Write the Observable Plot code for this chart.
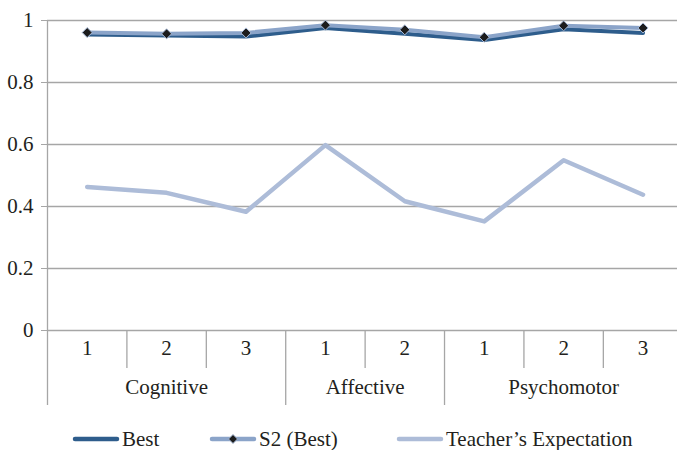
<!DOCTYPE html>
<html>
<head>
<meta charset="utf-8">
<script src="https://cdn.jsdelivr.net/npm/d3@7"></script>
<script src="https://cdn.jsdelivr.net/npm/@observablehq/plot@0.6"></script>
<style>
  html, body { margin: 0; padding: 0; background: white; }
  .fig { width: 677px; font-family: 'Liberation Serif', 'Times New Roman', serif; }
  .lg { position: relative; width: 677px; height: 30px; font-family: 'Liberation Serif', 'Times New Roman', serif; font-size: 21px; color: #231f20; }
  .lg .it { position: absolute; top: 4px; height: 30px; display: flex; align-items: center; white-space: nowrap; }
  .lg svg { display: block; margin-right: 2px; }
</style>
</head>
<body>
<div class="fig" id="figbox"></div>
<script>
const groups = ["Cognitive","Cognitive","Cognitive","Affective","Affective","Psychomotor","Psychomotor","Psychomotor"];
const items = ["1","2","3","1","2","1","2","3"];
const best = [0.955, 0.952, 0.948, 0.976, 0.957, 0.937, 0.972, 0.960];
const s2Best = [0.961, 0.957, 0.960, 0.985, 0.970, 0.946, 0.983, 0.976];
const teacher = [0.463, 0.444, 0.383, 0.598, 0.417, 0.352, 0.549, 0.438];
const yTicks = [0, 0.2, 0.4, 0.6, 0.8, 1];
const seriesNames = ["Best", "S2 (Best)", "Teacher\u2019s Expectation"];
const colors = {best: "#2e5d8c", s2: "#8ba4c9", teacher: "#adbcd8"};
const gridColor = "#a6a6a6";

const rows = items.map((d, i) => ({i, item: d, group: groups[i], best: best[i], s2: s2Best[i], teacher: teacher[i]}));

const shortSeps = [], groupSeps = [];
items.forEach((d, i) => {
  if (i === 0) return;
  if (groups[i] !== groups[i - 1]) groupSeps.push(i - 0.5); else shortSeps.push(i - 0.5);
});
groupSeps.push(items.length - 0.5);
const groupList = [];
groups.forEach((g, i) => {
  const last = groupList[groupList.length - 1];
  if (last && last.name === g) { last.end = i; } else groupList.push({name: g, start: i, end: i});
});
groupList.forEach(g => g.center = (g.start + g.end) / 2);

const svg = Plot.plot({
  width: 677,
  height: 420,
  marginLeft: 47,
  marginRight: 0,
  marginTop: 20,
  marginBottom: 90,
  x: {domain: [-0.5, 7.434], axis: null},
  y: {domain: [0, 1], axis: null},
  style: {fontFamily: "Liberation Serif", fontSize: "21px", color: "#231f20", background: "white"},
  marks: [
    Plot.ruleY(yTicks, {stroke: gridColor, strokeWidth: 1.3}),
    Plot.axisY({ticks: yTicks, tickSize: 6, tickPadding: 8, stroke: gridColor, fill: "#231f20", tickFormat: d => String(d), label: null, fontSize: 21}),
    Plot.ruleX([-0.5], {stroke: gridColor, strokeWidth: 1.3, insetBottom: -75}),
    Plot.ruleX(shortSeps, {stroke: gridColor, strokeWidth: 1.3, insetTop: 310, insetBottom: -38}),
    Plot.ruleX(groupSeps, {stroke: gridColor, strokeWidth: 1.3, insetTop: 310, insetBottom: -75}),
    Plot.text(rows, {x: "i", text: "item", frameAnchor: "bottom", dy: 24, fill: "#231f20", fontSize: 21}),
    Plot.text(groupList, {x: "center", text: "name", frameAnchor: "bottom", dy: 63, fill: "#231f20", fontSize: 21}),
    Plot.line(rows, {x: "i", y: "teacher", stroke: colors.teacher, strokeWidth: 4.5}),
    Plot.line(rows, {x: "i", y: "best", stroke: colors.best, strokeWidth: 4}),
    Plot.line(rows, {x: "i", y: "s2", stroke: colors.s2, strokeWidth: 4}),
    Plot.dot(rows, {x: "i", y: "s2", symbol: "diamond2", r: 4.5, fill: "#1c1c1c", stroke: "#a9bbd8", strokeWidth: 1})
  ]
});
const box = document.getElementById("figbox");
box.appendChild(svg);

const legend = document.createElement("div");
legend.className = "lg";
const legendItems = [
  {name: seriesNames[0], color: colors.best, marker: false, left: 72},
  {name: seriesNames[1], color: colors.s2, marker: true, left: 209},
  {name: seriesNames[2], color: colors.teacher, marker: false, left: 396}
];
legendItems.forEach(it => {
  const div = document.createElement("div");
  div.className = "it";
  div.style.left = it.left + "px";
  let sw = `<svg width="48" height="12"><line x1="3" y1="6" x2="45" y2="6" stroke="${it.color}" stroke-width="4.5" stroke-linecap="round"/>`;
  if (it.marker) sw += `<path d="M24,1.5 L28.5,6 L24,10.5 L19.5,6 Z" fill="#1c1c1c" stroke="#a9bbd8" stroke-width="1"/>`;
  sw += `</svg>`;
  div.innerHTML = sw + `<span>${it.name}</span>`;
  legend.appendChild(div);
});
box.appendChild(legend);
</script>
</body>
</html>
